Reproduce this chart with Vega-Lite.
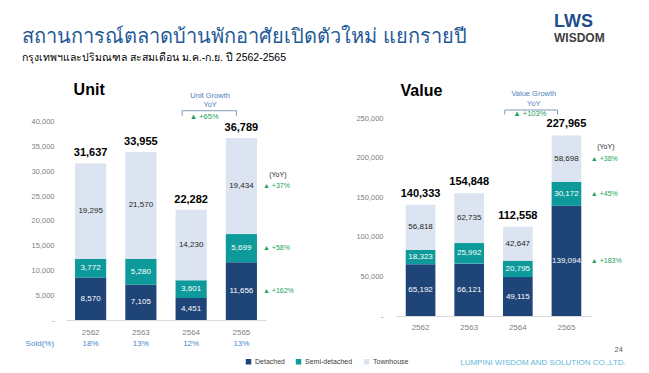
{
  "$schema": "https://vega.github.io/schema/vega-lite/v6.json",
  "background": "white",
  "padding": {"left": 22, "top": 12, "right": 10, "bottom": 2},
  "bounds": "flush",
  "spacing": 47,
  "config": {"view": {"stroke": null}, "font": "Liberation Sans"},
  "datasets": {
    "unit": [
      {"year": "2562", "type": "Detached", "o": 1, "v": 8570},
      {"year": "2562", "type": "Semi-detached", "o": 2, "v": 3772},
      {"year": "2562", "type": "Townhouse", "o": 3, "v": 19295},
      {"year": "2563", "type": "Detached", "o": 1, "v": 7105},
      {"year": "2563", "type": "Semi-detached", "o": 2, "v": 5280},
      {"year": "2563", "type": "Townhouse", "o": 3, "v": 21570},
      {"year": "2564", "type": "Detached", "o": 1, "v": 4451},
      {"year": "2564", "type": "Semi-detached", "o": 2, "v": 3601},
      {"year": "2564", "type": "Townhouse", "o": 3, "v": 14230},
      {"year": "2565", "type": "Detached", "o": 1, "v": 11656, "yoy": "▲ +162%"},
      {"year": "2565", "type": "Semi-detached", "o": 2, "v": 5699, "yoy": "▲ +58%"},
      {"year": "2565", "type": "Townhouse", "o": 3, "v": 19434, "yoy": "▲ +37%"}
    ],
    "value": [
      {"year": "2562", "type": "Detached", "o": 1, "v": 65192},
      {"year": "2562", "type": "Semi-detached", "o": 2, "v": 18323},
      {"year": "2562", "type": "Townhouse", "o": 3, "v": 56818},
      {"year": "2563", "type": "Detached", "o": 1, "v": 66121},
      {"year": "2563", "type": "Semi-detached", "o": 2, "v": 25992},
      {"year": "2563", "type": "Townhouse", "o": 3, "v": 62735},
      {"year": "2564", "type": "Detached", "o": 1, "v": 49115},
      {"year": "2564", "type": "Semi-detached", "o": 2, "v": 20795},
      {"year": "2564", "type": "Townhouse", "o": 3, "v": 42647},
      {"year": "2565", "type": "Detached", "o": 1, "v": 139094, "yoy": "▲ +183%"},
      {"year": "2565", "type": "Semi-detached", "o": 2, "v": 30172, "yoy": "▲ +45%"},
      {"year": "2565", "type": "Townhouse", "o": 3, "v": 58698, "yoy": "▲ +38%"}
    ],
    "unitTot": [
      {"year": "2562", "total": 31637},
      {"year": "2563", "total": 33955},
      {"year": "2564", "total": 22282},
      {"year": "2565", "total": 36789}
    ],
    "valueTot": [
      {"year": "2562", "total": 140333},
      {"year": "2563", "total": 154848},
      {"year": "2564", "total": 112558},
      {"year": "2565", "total": 227965}
    ],
    "sold": [
      {"year": "2562", "sold": "18%"},
      {"year": "2563", "sold": "13%"},
      {"year": "2564", "sold": "12%"},
      {"year": "2565", "sold": "13%"}
    ]
  },
  "vconcat": [
    {
      "bounds": "flush",
      "spacing": 0,
      "hconcat": [
        {
          "width": 488, "height": 1,
          "data": {"values": [{"k": 1}]},
          "mark": {"type": "point", "opacity": 0},
          "encoding": {},
          "title": {
            "text": "สถานการณ์ตลาดบ้านพักอาศัยเปิดตัวใหม่ แยกรายปี",
            "subtitle": "กรุงเทพฯและปริมณฑล สะสมเดือน ม.ค.-ก.ย. ปี 2562-2565",
            "anchor": "start", "dx": -44, "offset": 5,
            "fontSize": 20, "fontWeight": "normal", "color": "#1f5a96",
            "subtitleFontSize": 10.5, "subtitleColor": "#000000", "subtitlePadding": 6
          }
        },
        {
          "width": 50, "height": 1,
          "data": {"values": [{"k": 1}]},
          "mark": {"type": "point", "opacity": 0},
          "encoding": {},
          "title": {
            "text": "LWS", "subtitle": "WISDOM",
            "anchor": "start", "offset": 25,
            "fontSize": 18, "fontWeight": "bold", "color": "#1f4e8c",
            "subtitleFontSize": 12, "subtitleFontWeight": "bold", "subtitleColor": "#404040", "subtitlePadding": 2
          }
        }
      ]
    },
    {
      "bounds": "flush",
      "spacing": 130,
      "hconcat": [
        {
          "width": 200, "height": 202,
          "resolve": {"axis": {"x": "independent", "y": "independent"}},
          "layer": [
            {
              "data": {"name": "unit"},
              "transform": [{"stack": "v", "groupby": ["year"], "sort": [{"field": "o", "order": "ascending"}], "as": ["v0", "v1"]}],
              "mark": {"type": "bar"},
              "encoding": {
                "x": {"field": "year", "type": "nominal", "scale": {"paddingInner": 0.38, "paddingOuter": 0.18},
                      "axis": {"title": null, "ticks": false, "labelAngle": 0, "domainColor": "#d9d9d9", "labelColor": "#7f7f7f", "labelFontSize": 8, "labelPadding": 8}},
                "y": {"field": "v0", "type": "quantitative", "scale": {"domain": [0, 40808], "nice": false},
                      "axis": {"title": null, "values": [0, 5000, 10000, 15000, 20000, 25000, 30000, 35000, 40000], "labelOverlap": false, "labelExpr": "datum.value === 0 ? '-    ' : format(datum.value, ',')", "ticks": false, "domain": false, "grid": false, "labelColor": "#808080", "labelFontSize": 7.5, "labelPadding": 12}},
                "y2": {"field": "v1"},
                "color": {"field": "type", "type": "nominal",
                          "scale": {"domain": ["Detached", "Semi-detached", "Townhouse"], "range": ["#1f4478", "#0e9a9a", "#dbe4f0"]},
                          "legend": {"orient": "none", "legendX": 179, "legendY": 287, "direction": "horizontal", "title": null, "symbolType": "square", "symbolSize": 30, "symbolStrokeWidth": 0, "labelFontSize": 7, "labelColor": "#404040", "columnPadding": 10, "labelOffset": 3}}
              }
            },
            {
              "data": {"name": "unit"},
              "transform": [
                {"stack": "v", "groupby": ["year"], "sort": [{"field": "o", "order": "ascending"}], "as": ["v0", "v1"]},
                {"calculate": "(datum.v0 + datum.v1) / 2", "as": "mid"}
              ],
              "mark": {"type": "text", "fontSize": 8},
              "encoding": {
                "x": {"field": "year", "type": "nominal", "axis": null},
                "y": {"field": "mid", "type": "quantitative", "axis": null},
                "text": {"field": "v", "type": "quantitative", "format": ","},
                "color": {"condition": {"test": "datum.type === 'Townhouse'", "value": "#262626"}, "value": "white"}
              }
            },
            {
              "data": {"name": "unit"},
              "transform": [
                {"stack": "v", "groupby": ["year"], "sort": [{"field": "o", "order": "ascending"}], "as": ["v0", "v1"]},
                {"calculate": "(datum.v0 + datum.v1) / 2", "as": "mid"},
                {"filter": "datum.yoy"}
              ],
              "mark": {"type": "text", "fontSize": 7, "align": "left", "dx": 21.6, "color": "#1aa25a"},
              "encoding": {
                "x": {"field": "year", "type": "nominal", "axis": null},
                "y": {"field": "mid", "type": "quantitative", "axis": null},
                "text": {"field": "yoy"}
              }
            },
            {
              "data": {"name": "unitTot"},
              "mark": {"type": "text", "fontSize": 11, "fontWeight": "bold", "baseline": "alphabetic", "dy": -7, "color": "#000000"},
              "encoding": {
                "x": {"field": "year", "type": "nominal", "axis": null},
                "y": {"field": "total", "type": "quantitative", "axis": null},
                "text": {"field": "total", "type": "quantitative", "format": ","}
              }
            },
            {
              "data": {"name": "sold"},
              "mark": {"type": "text", "fontSize": 8, "color": "#4a86c8"},
              "encoding": {
                "x": {"field": "year", "type": "nominal", "axis": null},
                "y": {"datum": -4850, "type": "quantitative", "axis": null},
                "text": {"field": "sold"}
              }
            },
            {
              "data": {"values": [{"label": "Sold(%)"}]},
              "mark": {"type": "text", "fontSize": 8, "align": "left", "dx": -65, "color": "#4a86c8"},
              "encoding": {
                "x": {"datum": "2562", "type": "nominal", "axis": null},
                "y": {"datum": -4850, "type": "quantitative", "axis": null},
                "text": {"field": "label"}
              }
            },
            {
              "data": {"values": [{"label": "Unit"}]},
              "mark": {"type": "text", "fontSize": 16, "fontWeight": "bold", "align": "left", "baseline": "alphabetic", "dx": -17, "color": "#000000"},
              "encoding": {
                "x": {"datum": "2562", "type": "nominal", "axis": null},
                "y": {"datum": 45450, "type": "quantitative", "axis": null},
                "text": {"field": "label"}
              }
            },
            {
              "data": {"values": [{"label": "Unit Growth"}]},
              "mark": {"type": "text", "fontSize": 7.5, "dx": 19, "color": "#4f81bd"},
              "encoding": {
                "x": {"datum": "2564", "type": "nominal", "axis": null},
                "y": {"datum": 45250, "type": "quantitative", "axis": null},
                "text": {"field": "label"}
              }
            },
            {
              "data": {"values": [{"label": "YoY"}]},
              "mark": {"type": "text", "fontSize": 7.5, "dx": 19, "color": "#4f81bd"},
              "encoding": {
                "x": {"datum": "2564", "type": "nominal", "axis": null},
                "y": {"datum": 43430, "type": "quantitative", "axis": null},
                "text": {"field": "label"}
              }
            },
            {
              "data": {"values": [{"label": "▲ +65%"}]},
              "mark": {"type": "text", "fontSize": 7.5, "dx": 13, "color": "#1aa25a"},
              "encoding": {
                "x": {"datum": "2564", "type": "nominal", "axis": null},
                "y": {"datum": 40950, "type": "quantitative", "axis": null},
                "text": {"field": "label"}
              }
            },
            {
              "data": {"values": [{"label": "(YoY)"}]},
              "mark": {"type": "text", "fontSize": 7, "dx": 36.5, "color": "#262626"},
              "encoding": {
                "x": {"datum": "2565", "type": "nominal", "axis": null},
                "y": {"datum": 29290, "type": "quantitative", "axis": null},
                "text": {"field": "label"}
              }
            },
            {
              "data": {"values": [{"k": "bracket"}]},
              "mark": {"type": "rule", "color": "#7f99b5", "strokeWidth": 1, "xOffset": -9, "x2Offset": -5},
              "encoding": {
                "x": {"datum": "2564", "type": "nominal", "axis": null},
                "x2": {"datum": "2565"},
                "y": {"datum": 42280, "type": "quantitative", "axis": null}
              }
            },
            {
              "data": {"values": [{"k": "bracket"}]},
              "mark": {"type": "rule", "color": "#7f99b5", "strokeWidth": 1, "xOffset": -9},
              "encoding": {
                "x": {"datum": "2564", "type": "nominal", "axis": null},
                "y": {"datum": 42280, "type": "quantitative", "axis": null},
                "y2": {"datum": 41270}
              }
            },
            {
              "data": {"values": [{"k": "bracket"}]},
              "mark": {"type": "rule", "color": "#7f99b5", "strokeWidth": 1, "xOffset": -5},
              "encoding": {
                "x": {"datum": "2565", "type": "nominal", "axis": null},
                "y": {"datum": 42280, "type": "quantitative", "axis": null},
                "y2": {"datum": 41270}
              }
            }
          ]
        },
        {
          "width": 195, "height": 198,
          "resolve": {"axis": {"x": "independent", "y": "independent"}},
          "layer": [
            {
              "data": {"name": "value"},
              "transform": [{"stack": "v", "groupby": ["year"], "sort": [{"field": "o", "order": "ascending"}], "as": ["v0", "v1"]}],
              "mark": {"type": "bar"},
              "encoding": {
                "x": {"field": "year", "type": "nominal", "scale": {"paddingInner": 0.39, "paddingOuter": 0.2},
                      "axis": {"title": null, "ticks": false, "labelAngle": 0, "domainColor": "#d9d9d9", "labelColor": "#7f7f7f", "labelFontSize": 8, "labelPadding": 7}},
                "y": {"field": "v0", "type": "quantitative", "scale": {"domain": [0, 250000], "nice": false},
                      "axis": {"title": null, "values": [0, 50000, 100000, 150000, 200000, 250000], "labelOverlap": false, "labelExpr": "datum.value === 0 ? '-    ' : format(datum.value, ',')", "ticks": false, "domain": false, "grid": false, "labelColor": "#808080", "labelFontSize": 7.5, "labelPadding": 13}},
                "y2": {"field": "v1"},
                "color": {"field": "type", "type": "nominal",
                          "scale": {"domain": ["Detached", "Semi-detached", "Townhouse"], "range": ["#1f4478", "#0e9a9a", "#dbe4f0"]},
                          "legend": {"orient": "none", "legendX": 179, "legendY": 287, "direction": "horizontal", "title": null, "symbolType": "square", "symbolSize": 30, "symbolStrokeWidth": 0, "labelFontSize": 7, "labelColor": "#404040", "columnPadding": 10, "labelOffset": 3}}
              }
            },
            {
              "data": {"name": "value"},
              "transform": [
                {"stack": "v", "groupby": ["year"], "sort": [{"field": "o", "order": "ascending"}], "as": ["v0", "v1"]},
                {"calculate": "(datum.v0 + datum.v1) / 2", "as": "mid"}
              ],
              "mark": {"type": "text", "fontSize": 8},
              "encoding": {
                "x": {"field": "year", "type": "nominal", "axis": null},
                "y": {"field": "mid", "type": "quantitative", "axis": null},
                "text": {"field": "v", "type": "quantitative", "format": ","},
                "color": {"condition": {"test": "datum.type === 'Townhouse'", "value": "#262626"}, "value": "white"}
              }
            },
            {
              "data": {"name": "value"},
              "transform": [
                {"stack": "v", "groupby": ["year"], "sort": [{"field": "o", "order": "ascending"}], "as": ["v0", "v1"]},
                {"calculate": "(datum.v0 + datum.v1) / 2", "as": "mid"},
                {"filter": "datum.yoy"}
              ],
              "mark": {"type": "text", "fontSize": 7, "align": "left", "dx": 24.4, "color": "#1aa25a"},
              "encoding": {
                "x": {"field": "year", "type": "nominal", "axis": null},
                "y": {"field": "mid", "type": "quantitative", "axis": null},
                "text": {"field": "yoy"}
              }
            },
            {
              "data": {"name": "valueTot"},
              "mark": {"type": "text", "fontSize": 11, "fontWeight": "bold", "baseline": "alphabetic", "dy": -8, "color": "#000000"},
              "encoding": {
                "x": {"field": "year", "type": "nominal", "axis": null},
                "y": {"field": "total", "type": "quantitative", "axis": null},
                "text": {"field": "total", "type": "quantitative", "format": ","}
              }
            },
            {
              "data": {"values": [{"label": "Value"}]},
              "mark": {"type": "text", "fontSize": 16, "fontWeight": "bold", "align": "left", "baseline": "alphabetic", "dx": -20, "color": "#000000"},
              "encoding": {
                "x": {"datum": "2562", "type": "nominal", "axis": null},
                "y": {"datum": 277770, "type": "quantitative", "axis": null},
                "text": {"field": "label"}
              }
            },
            {
              "data": {"values": [{"label": "Value Growth"}]},
              "mark": {"type": "text", "fontSize": 7.5, "dx": 16, "color": "#4f81bd"},
              "encoding": {
                "x": {"datum": "2564", "type": "nominal", "axis": null},
                "y": {"datum": 280300, "type": "quantitative", "axis": null},
                "text": {"field": "label"}
              }
            },
            {
              "data": {"values": [{"label": "YoY"}]},
              "mark": {"type": "text", "fontSize": 7.5, "dx": 16, "color": "#4f81bd"},
              "encoding": {
                "x": {"datum": "2564", "type": "nominal", "axis": null},
                "y": {"datum": 267670, "type": "quantitative", "axis": null},
                "text": {"field": "label"}
              }
            },
            {
              "data": {"values": [{"label": "▲ +103%"}]},
              "mark": {"type": "text", "fontSize": 7.5, "dx": 12, "color": "#1aa25a"},
              "encoding": {
                "x": {"datum": "2564", "type": "nominal", "axis": null},
                "y": {"datum": 254670, "type": "quantitative", "axis": null},
                "text": {"field": "label"}
              }
            },
            {
              "data": {"values": [{"label": "(YoY)"}]},
              "mark": {"type": "text", "fontSize": 7, "dx": 39.4, "color": "#262626"},
              "encoding": {
                "x": {"datum": "2565", "type": "nominal", "axis": null},
                "y": {"datum": 213760, "type": "quantitative", "axis": null},
                "text": {"field": "label"}
              }
            },
            {
              "data": {"values": [{"k": "bracket"}]},
              "mark": {"type": "rule", "color": "#7f99b5", "strokeWidth": 1, "xOffset": -13, "x2Offset": -9},
              "encoding": {
                "x": {"datum": "2564", "type": "nominal", "axis": null},
                "x2": {"datum": "2565"},
                "y": {"datum": 260100, "type": "quantitative", "axis": null}
              }
            },
            {
              "data": {"values": [{"k": "bracket"}]},
              "mark": {"type": "rule", "color": "#7f99b5", "strokeWidth": 1, "xOffset": -13},
              "encoding": {
                "x": {"datum": "2564", "type": "nominal", "axis": null},
                "y": {"datum": 260100, "type": "quantitative", "axis": null},
                "y2": {"datum": 254420}
              }
            },
            {
              "data": {"values": [{"k": "bracket"}]},
              "mark": {"type": "rule", "color": "#7f99b5", "strokeWidth": 1, "xOffset": -9},
              "encoding": {
                "x": {"datum": "2565", "type": "nominal", "axis": null},
                "y": {"datum": 260100, "type": "quantitative", "axis": null},
                "y2": {"datum": 254420}
              }
            },
            {
              "data": {"values": [{"label": "LUMPINI WISDOM AND SOLUTION CO.,LTD."}]},
              "mark": {"type": "text", "fontSize": 8, "align": "right", "dx": 59.4, "color": "#5fb7d9"},
              "encoding": {
                "x": {"datum": "2565", "type": "nominal", "axis": null},
                "y": {"datum": -58960, "type": "quantitative", "axis": null},
                "text": {"field": "label"}
              }
            },
            {
              "data": {"values": [{"label": "24"}]},
              "mark": {"type": "text", "fontSize": 7.5, "align": "right", "dx": 56.4, "color": "#595959"},
              "encoding": {
                "x": {"datum": "2565", "type": "nominal", "axis": null},
                "y": {"datum": -42930, "type": "quantitative", "axis": null},
                "text": {"field": "label"}
              }
            }
          ]
        }
      ]
    }
  ]
}
